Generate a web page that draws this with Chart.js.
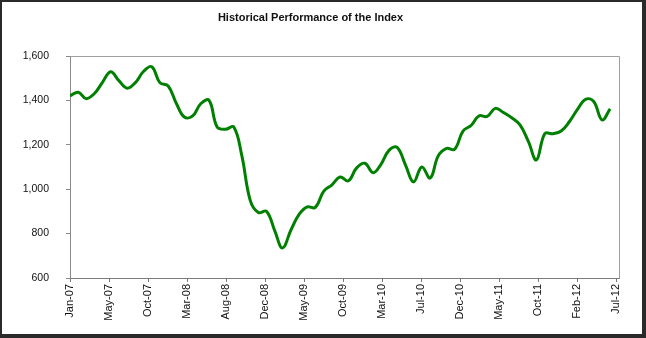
<!DOCTYPE html>
<html>
<head>
<meta charset="utf-8">
<script src="https://cdn.jsdelivr.net/npm/chart.js@4"></script>
<style>
  html, body { margin: 0; padding: 0; background: #fff; }
  #frame {
    width: 646px; height: 338px; box-sizing: border-box;
    border-style: solid; border-color: #2a2a2a;
    border-width: 2px 4px 4px 2px; background: #fff;
  }
  #wrap { position: relative; width: 640px; height: 332px; }
  canvas { display: block; }
</style>
</head>
<body>
<div id="frame"><div id="wrap"><canvas id="c" width="640" height="332" style="width:640px;height:332px"></canvas></div></div>
<script>
// ---- data (monthly, first of each month, Jan-2007 .. Jul-2012) ----
const startYear = 2007;
const startMonth = 0; // January
const indexValues = [
  1420, 1437, 1408, 1430, 1480, 1529, 1490, 1455, 1480, 1530, 1552, 1480,
  1465, 1385, 1325, 1330, 1385, 1400, 1280, 1270, 1280, 1150, 950, 895,
  900, 810, 735, 815, 885, 920, 918, 990, 1020, 1055, 1038, 1095,
  1117, 1074, 1110, 1175, 1188, 1110, 1033, 1100, 1050, 1150, 1184, 1180,
  1262, 1288, 1330, 1328, 1364, 1345, 1322, 1290, 1215, 1132, 1250, 1250,
  1262, 1305, 1358, 1405, 1395, 1312, 1362
];
const tickLabels = ['Jan-07','May-07','Oct-07','Mar-08','Aug-08','Dec-08','May-09',
  'Oct-09','Mar-10','Jul-10','Dec-10','May-11','Oct-11','Feb-12','Jul-12'];
const tickStepDays = 145;   // date-axis major unit
const axisMaxDays = 2041;
const yTicks = [600, 800, 1000, 1200, 1400, 1600];

const DAY = 86400000;
const origin = Date.UTC(startYear, startMonth, 1);
const points = indexValues.map((v, i) => ({
  x: (Date.UTC(startYear, startMonth + i, 1) - origin) / DAY,
  y: v
}));

const frameBox = {
  id: 'frameBox',
  afterDraw(chart) {
    const a = chart.chartArea, ctx = chart.ctx;
    ctx.save();
    ctx.strokeStyle = '#a0a0a0';
    ctx.lineWidth = 1;
    ctx.beginPath();
    ctx.moveTo(Math.round(a.left) + 0.5, Math.round(a.top) + 0.5);
    ctx.lineTo(Math.round(a.right) + 0.5, Math.round(a.top) + 0.5);
    ctx.lineTo(Math.round(a.right) + 0.5, Math.round(a.bottom) + 0.5);
    ctx.stroke();
    ctx.restore();
  }
};

new Chart(document.getElementById('c'), {
  type: 'line',
  data: {
    datasets: [{
      data: points,
      borderColor: '#008000',
      borderWidth: 3,
      pointRadius: 0,
      tension: 0.4,
      fill: false
    }]
  },
  plugins: [frameBox],
  options: {
    responsive: false,
    animation: false,
    devicePixelRatio: 1,
    layout: { padding: { left: 0, right: 23, top: 0, bottom: 0 } },
    plugins: {
      legend: { display: false },
      tooltip: { enabled: false },
      title: {
        display: true,
        text: 'Historical Performance of the Index',
        color: '#111',
        font: { family: '"Liberation Sans", Arial, sans-serif', size: 11, weight: 'bold' },
        padding: { top: 9, bottom: 31.8 }
      }
    },
    scales: {
      x: {
        type: 'linear',
        min: 0,
        max: axisMaxDays,
        afterBuildTicks(scale) {
          scale.ticks = tickLabels.map((l, i) => ({ value: i * tickStepDays }));
        },
        afterFit(scale) { scale.height = 56; },
        ticks: {
          autoSkip: false,
          maxRotation: 90,
          minRotation: 90,
          padding: 2,
          color: '#111',
          font: { family: '"Liberation Sans", Arial, sans-serif', size: 11 },
          callback: (v, i) => tickLabels[i]
        },
        grid: { display: true, drawOnChartArea: false, drawTicks: true, tickLength: 4, color: '#7a7a7a', tickColor: '#7a7a7a' },
        border: { display: true, color: '#7a7a7a', width: 1 }
      },
      y: {
        min: 600,
        max: 1600,
        afterBuildTicks(scale) {
          scale.ticks = yTicks.map(v => ({ value: v }));
        },
        afterFit(scale) { scale.width = 68; },
        ticks: {
          padding: 17,
          color: '#111',
          font: { family: '"Liberation Sans", Arial, sans-serif', size: 10.5 },
          callback: v => v.toLocaleString('en-US')
        },
        grid: { display: true, drawOnChartArea: false, drawTicks: true, tickLength: 4, color: '#8a8a8a', tickColor: '#8a8a8a' },
        border: { display: true, color: '#8a8a8a', width: 1 }
      }
    }
  }
});
</script>
</body>
</html>
